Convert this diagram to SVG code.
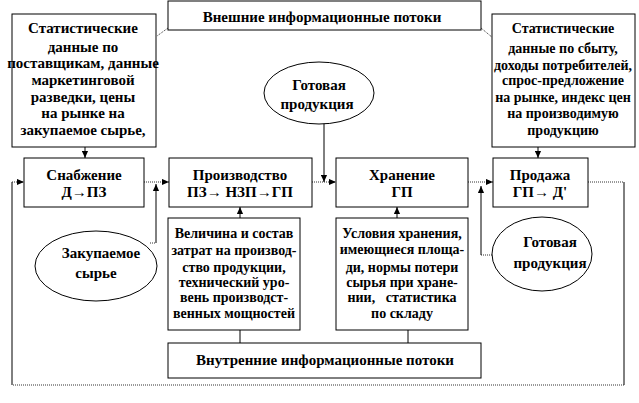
<svg xmlns="http://www.w3.org/2000/svg" width="639" height="403" viewBox="0 0 639 403">
<defs>
<style>
.box{fill:#fff;stroke:#000;stroke-width:1}
.ell{fill:#fff;stroke:#000;stroke-width:1}
.t{font-family:'Liberation Serif','Times New Roman','DejaVu Serif',serif;font-weight:bold;font-size:15px;fill:#000;text-anchor:middle;dominant-baseline:central}
.s{font-size:14px}
.c{fill:none;stroke:#000;stroke-width:1}
.d{fill:none;stroke:#333;stroke-width:1;stroke-dasharray:1 1}
</style>
<marker id="ah" viewBox="0 0 8 8" refX="8" refY="4" markerWidth="7" markerHeight="7" orient="auto" markerUnits="userSpaceOnUse">
<path d="M0,0.5 L8,4 L0,7.5 Z" fill="#000"/>
</marker>
</defs>
<rect width="639" height="403" fill="#fff"/>
<g id="connectors">
<path class="d" d="M168,28 L157,36"/>
<path class="d" d="M481,28 L493,38"/>
<path class="c" d="M85,147 V158" marker-end="url(#ah)"/>
<path class="c" d="M538,147 V158" marker-end="url(#ah)"/>
<path class="d" d="M144,182 H169" marker-end="url(#ah)"/>
<path class="d" d="M312,182 H336" marker-end="url(#ah)"/>
<path class="d" d="M468,182 H493" marker-end="url(#ah)"/>
<path class="c" d="M324,123 V182" marker-end="url(#ah)"/>
<path class="d" d="M150,243 H156"/>
<path class="c" d="M156,243 V184" marker-end="url(#ah)"/>
<path class="d" d="M481,255 H493"/>
<path class="c" d="M481,255 V186" marker-end="url(#ah)"/>
<path class="c" d="M240,218 V207" marker-end="url(#ah)"/>
<path class="c" d="M240,330 V343"/>
<path class="c" d="M397,218 V207" marker-end="url(#ah)"/>
<path class="c" d="M408,330 V343"/>
<path class="d" d="M588,182 H624"/>
<path class="c" d="M624,182 V385"/>
<path class="d" d="M624,385 H12"/>
<path class="c" d="M12,385 V182"/>
<path class="d" d="M12,182 H24" marker-end="url(#ah)"/>
</g>
<g id="ext">
<rect class="box" x="168" y="1" width="313" height="29"/>
<text class="t" x="322" y="17">Внешние информационные потоки</text>
</g>
<g id="stat-left">
<rect class="box" x="12" y="14" width="144" height="133"/>
<text class="t" x="83" y="28">Статистические</text>
<text class="t" x="83" y="47">данные по</text>
<text class="t" x="83" y="63">поставщикам, данные</text>
<text class="t" x="83" y="80">маркетинговой</text>
<text class="t" x="83" y="97">разведки, цены</text>
<text class="t" x="83" y="113">на рынке на</text>
<text class="t" x="83" y="130">закупаемое сырье,</text>
</g>
<g id="stat-right">
<rect class="box" x="492" y="14" width="143" height="133"/>
<text class="t s" x="563" y="28">Статистические</text>
<text class="t s" x="563" y="48">данные по сбыту,</text>
<text class="t s" x="563" y="65">доходы потребителей,</text>
<text class="t s" x="563" y="80">спрос-предложение</text>
<text class="t s" x="563" y="97">на рынке, индекс цен</text>
<text class="t s" x="563" y="113">на производимую</text>
<text class="t s" x="563" y="130">продукцию</text>
</g>
<g id="gp-top">
<ellipse class="ell" cx="319" cy="93" rx="55" ry="31"/>
<text class="t" x="319" y="85">Готовая</text>
<text class="t" x="317" y="104">продукция</text>
</g>
<g id="supply">
<rect class="box" x="24" y="158" width="120" height="49"/>
<text class="t" x="84" y="175">Снабжение</text>
<text class="t" x="84" y="192">Д→ПЗ</text>
</g>
<g id="production">
<rect class="box" x="169" y="158" width="143" height="49"/>
<text class="t" x="240" y="175">Производство</text>
<text class="t" x="240" y="192">ПЗ→ НЗП→ГП</text>
</g>
<g id="storage">
<rect class="box" x="336" y="158" width="132" height="49"/>
<text class="t" x="402" y="175">Хранение</text>
<text class="t" x="402" y="192">ГП</text>
</g>
<g id="sales">
<rect class="box" x="493" y="158" width="95" height="49"/>
<text class="t" x="540" y="175">Продажа</text>
<text class="t" x="540" y="192">ГП→ Д'</text>
</g>
<g id="raw">
<ellipse class="ell" cx="96" cy="266" rx="61" ry="35"/>
<text class="t" x="101" y="253">Закупаемое</text>
<text class="t" x="96" y="273">сырье</text>
</g>
<g id="costs">
<rect class="box" x="168" y="218" width="132" height="112"/>
<text class="t s" x="234" y="233">Величина и состав</text>
<text class="t s" x="234" y="250">затрат на производ-</text>
<text class="t s" x="234" y="267">ство продукции,</text>
<text class="t s" x="234" y="282">технический уро-</text>
<text class="t s" x="234" y="297">вень производст-</text>
<text class="t s" x="234" y="313">венных мощностей</text>
</g>
<g id="conditions">
<rect class="box" x="336" y="218" width="132" height="112"/>
<text class="t s" x="402" y="233">Условия хранения,</text>
<text class="t s" x="402" y="249">имеющиеся площа-</text>
<text class="t s" x="402" y="267">ди, нормы потери</text>
<text class="t s" x="402" y="282">сырья при хране-</text>
<text class="t s" x="402" y="297" xml:space="preserve">нии,   статистика</text>
<text class="t s" x="402" y="313">по складу</text>
</g>
<g id="gp-bottom">
<ellipse class="ell" cx="542" cy="254" rx="50" ry="37"/>
<text class="t" x="550" y="242">Готовая</text>
<text class="t" x="550" y="263">продукция</text>
</g>
<g id="int">
<rect class="box" x="168" y="343" width="313" height="35"/>
<text class="t" x="325" y="360">Внутренние информационные потоки</text>
</g>
</svg>
